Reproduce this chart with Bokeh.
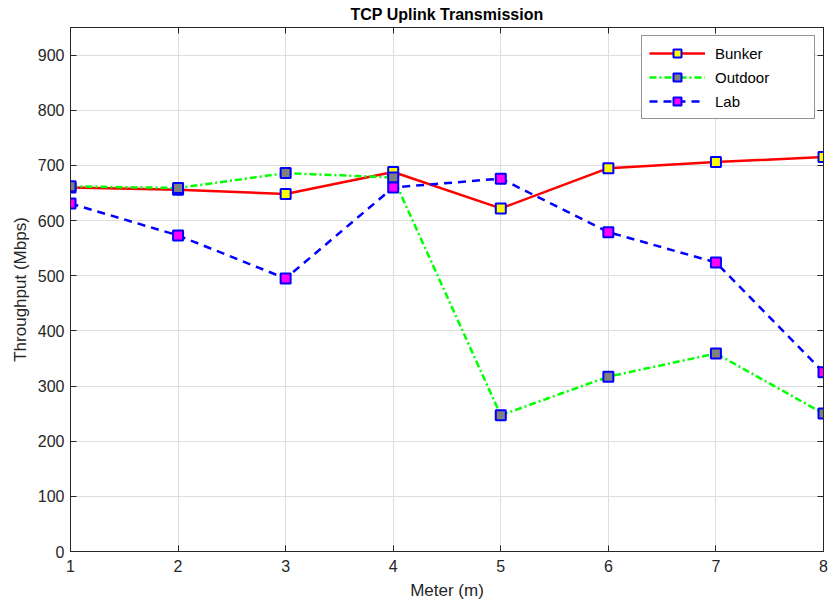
from bokeh.plotting import figure
from bokeh.models import (ColumnDataSource, LinearAxis, Range1d, Legend, LegendItem,
                          FixedTicker, CustomLabelingPolicy)
from bokeh.embed import file_html
from bokeh.resources import INLINE

meters = [1, 2, 3, 4, 5, 6, 7, 8]
bunker = [660, 656, 648, 688, 622, 695, 706, 715]
outdoor = [662, 659, 686, 678, 247, 317, 359, 250]
lab = [631, 573, 495, 660, 676, 579, 524, 325]
y_ticks = [0, 100, 200, 300, 400, 500, 600, 700, 800, 900]

FONT = "Liberation Sans"
INK = "#262626"

p = figure(width=828, height=608, output_backend="svg", toolbar_location=None,
           x_range=Range1d(1, 8), y_range=Range1d(0, 950),
           min_border_left=70, min_border_right=4, min_border_top=27, min_border_bottom=57)

p.title.text = "TCP Uplink Transmission"
p.title.align = "center"
p.title.text_font = FONT
p.title.text_font_size = "16px"
p.title.text_font_style = "bold"
p.title.text_color = "#000000"
p.title.offset = 0
p.title.standoff = 2

p.outline_line_color = INK
p.outline_line_width = 1
p.background_fill_color = "white"
p.border_fill_color = "white"

p.xgrid.grid_line_color = "#dedede"
p.ygrid.grid_line_color = "#dedede"
p.xgrid.ticker = FixedTicker(ticks=meters)
p.ygrid.ticker = FixedTicker(ticks=y_ticks)

for ax in p.xaxis:
    ax.ticker = FixedTicker(ticks=meters)
    ax.axis_label = "Meter (m)"
    ax.major_label_standoff = 8
    ax.axis_label_standoff = 6
for ax in p.yaxis:
    ax.ticker = FixedTicker(ticks=y_ticks)
    ax.axis_label = "Throughput (Mbps)"
    ax.major_label_standoff = 6
    ax.axis_label_standoff = 5

for ax in list(p.xaxis) + list(p.yaxis):
    ax.major_label_text_font = FONT
    ax.major_label_text_font_size = "16px"
    ax.major_label_text_color = INK
    ax.axis_label_text_font = FONT
    ax.axis_label_text_font_size = "17px"
    ax.axis_label_text_font_style = "normal"
    ax.axis_label_text_color = INK
    ax.axis_line_color = INK
    ax.major_tick_line_color = INK
    ax.major_tick_in = 6
    ax.major_tick_out = 0
    ax.minor_tick_line_color = None

# mirrored tick marks on the top and right edges; their labels are filtered out
no_labels = CustomLabelingPolicy(code="return new Set()")
mirror = dict(major_label_policy=no_labels, major_label_text_font_size="1px",
              major_label_standoff=0, major_tick_in=6, major_tick_out=0,
              minor_tick_line_color=None, axis_line_color=INK,
              major_tick_line_color=INK)
top = LinearAxis(ticker=FixedTicker(ticks=meters), **mirror)
right = LinearAxis(ticker=FixedTicker(ticks=y_ticks), **mirror)
p.add_layout(top, "above")
p.add_layout(right, "right")

src = ColumnDataSource(dict(x=meters, bunker=bunker, outdoor=outdoor, lab=lab))

l_b = p.line("x", "bunker", source=src, line_color="#ff0000", line_width=2.5)
m_b = p.scatter("x", "bunker", source=src, marker="square", size=10,
                fill_color="#ffff00", line_color="#0000ff", line_width=2)
l_o = p.line("x", "outdoor", source=src, line_color="#00ff00", line_width=2.5,
             line_dash="7 3 2 3")
m_o = p.scatter("x", "outdoor", source=src, marker="square", size=10,
                fill_color="#808080", line_color="#0000ff", line_width=2)
l_l = p.line("x", "lab", source=src, line_color="#0000ff", line_width=2.5,
             line_dash="8 6")
m_l = p.scatter("x", "lab", source=src, marker="square", size=10,
                fill_color="#ff00ff", line_color="#0000ff", line_width=2)

legend = Legend(items=[
    LegendItem(label="Bunker", renderers=[l_b, m_b]),
    LegendItem(label="Outdoor", renderers=[l_o, m_o]),
    LegendItem(label="Lab", renderers=[l_l, m_l]),
], location="top_right")
legend.label_text_font = FONT
legend.label_text_font_size = "15px"
legend.label_text_color = "#000000"
legend.glyph_width = 56
legend.glyph_height = 20
legend.label_height = 20
legend.label_width = 92
legend.spacing = 4
legend.padding = 7
legend.margin = 8
legend.label_standoff = 10
legend.border_line_color = INK
legend.border_line_width = 1
legend.background_fill_alpha = 1
p.add_layout(legend)

open("out.html", "w").write(file_html(p, INLINE))
